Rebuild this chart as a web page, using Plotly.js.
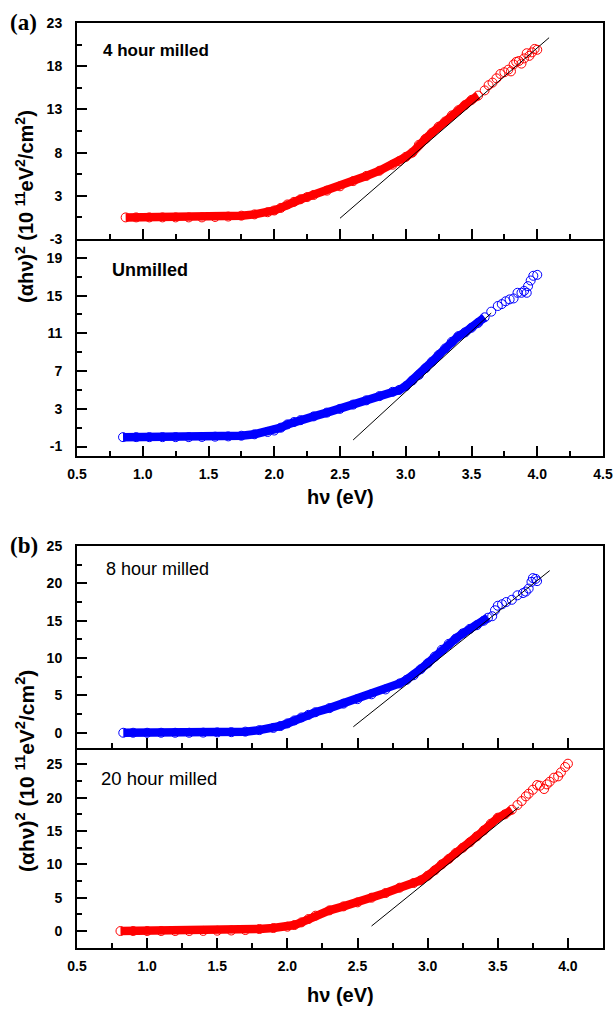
<!DOCTYPE html>
<html>
<head>
<meta charset="utf-8">
<script src="https://cdn.plot.ly/plotly-3.0.1.min.js"></script>
<style>html,body{margin:0;padding:0;background:#fff;}#chart{width:615px;height:1009px;}</style>
</head>
<body>
<div id="chart"></div>
<script>
// ---------- data ----------
// Panel (a) top: 4 hour milled (red)
const hv4 = [0.87,0.95,1.05,1.15,1.25,1.35,1.45,1.55,1.65,1.75,1.85,1.95,2.0,2.05,2.1,2.15,2.2,2.25,2.3,2.4,2.5,2.6,2.7,2.8,2.9,2.95,3.0,3.05,3.1,3.15,3.2,3.25,3.3,3.35,3.4,3.45,3.5,3.55,3.6,3.63,3.66,3.69,3.72,3.75,3.78,3.8,3.82,3.84,3.86,3.88,3.9,3.92,3.94,3.96,3.98,4.0];
const y4  = [0.5,0.5,0.5,0.5,0.5,0.5,0.5,0.55,0.6,0.7,0.85,1.1,1.3,1.6,2.0,2.3,2.6,2.85,3.1,3.6,4.1,4.7,5.3,5.9,6.6,7.0,7.5,8.0,8.9,9.6,10.3,11.0,11.6,12.3,12.9,13.5,14.1,14.6,15.2,15.8,16.1,16.6,17.1,17.3,17.6,17.4,18.2,18.5,18.6,18.3,18.9,19.5,19.2,19.6,20.0,19.9];
const fit4X = [2.5, 4.09];
const fit4Y = [0.4, 21.3];

// Panel (a) bottom: Unmilled (blue)
const hv0 = [0.85,0.95,1.05,1.15,1.25,1.35,1.45,1.55,1.65,1.75,1.85,1.95,2.0,2.05,2.1,2.15,2.2,2.3,2.4,2.5,2.6,2.7,2.8,2.9,2.95,3.0,3.05,3.1,3.15,3.2,3.25,3.3,3.35,3.4,3.45,3.5,3.55,3.6,3.65,3.7,3.73,3.76,3.79,3.82,3.85,3.88,3.9,3.92,3.93,3.95,3.97,4.0];
const y0  = [0,0,0,0,0,0,0.02,0.05,0.08,0.15,0.3,0.55,0.7,1.0,1.35,1.6,1.8,2.2,2.6,3.0,3.45,3.9,4.35,4.8,5.0,5.4,6.0,6.6,7.3,8.0,8.7,9.4,10.1,10.7,11.1,11.6,12.1,12.7,13.3,13.9,14.1,14.4,14.6,14.7,15.3,15.3,15.5,15.3,16.0,16.6,17.1,17.2];
const fit0X = [2.6, 3.65];
const fit0Y = [-0.3, 13.15];

// Panel (b) top: 8 hour milled (blue)
const hv8 = [0.83,0.9,1.0,1.1,1.2,1.3,1.4,1.5,1.6,1.7,1.8,1.9,1.95,2.0,2.05,2.1,2.15,2.2,2.3,2.4,2.5,2.6,2.7,2.8,2.85,2.9,2.95,3.0,3.05,3.1,3.15,3.2,3.25,3.3,3.35,3.4,3.43,3.46,3.48,3.5,3.53,3.56,3.6,3.64,3.68,3.7,3.72,3.74,3.75,3.77,3.78];
const y8  = [0,0,0,0,0,0,0.02,0.05,0.08,0.15,0.35,0.65,0.9,1.25,1.65,2.05,2.4,2.75,3.3,3.9,4.5,5.15,5.8,6.6,7.1,7.7,8.5,9.3,10.2,11.1,11.9,12.6,13.3,13.9,14.4,15.0,15.4,15.6,16.4,17.0,17.2,17.5,17.8,18.4,18.7,18.9,19.3,20.2,20.7,20.6,20.3];
const fit8X = [2.47, 3.87];
const fit8Y = [0.8, 21.7];

// Panel (b) bottom: 20 hour milled (red)
const hv20 = [0.81,0.9,1.0,1.1,1.2,1.3,1.4,1.5,1.6,1.7,1.8,1.9,2.0,2.05,2.1,2.15,2.2,2.3,2.4,2.5,2.6,2.7,2.8,2.9,2.95,3.0,3.05,3.1,3.15,3.2,3.25,3.3,3.35,3.4,3.45,3.5,3.55,3.6,3.64,3.67,3.7,3.72,3.75,3.78,3.8,3.83,3.85,3.87,3.9,3.93,3.95,3.98,4.0];
const y20  = [0,0,0,0,0,0,0.02,0.05,0.08,0.15,0.3,0.45,0.65,0.9,1.3,1.8,2.3,3.1,3.7,4.3,5.0,5.7,6.5,7.2,7.6,8.3,9.1,10.0,10.8,11.7,12.5,13.3,14.2,15.1,16.1,17.0,17.5,18.2,18.9,19.5,20.2,20.6,21.2,21.9,21.8,21.3,22.0,22.4,23.0,23.2,23.8,24.6,25.1];
const fit20X = [2.6, 3.65];
const fit20Y = [0.75, 18.6];

// tick labels
const yTickVals4 = [-2, 3, 8, 13, 18, 23];
const yTickText4 = ['-3', '3', '8', '13', '18', '23'];
const yTickVals0 = [-1, 3, 7, 11, 15, 19];
const yTickVals8 = [0, 5, 10, 15, 20, 25];
const yTickVals20 = [0, 5, 10, 15, 20, 25];

// ---------- styling ----------
const RED = '#ff0000', BLUE = '#0000ff';
const W = 615, H = 1009;
const px = v => v / W, py = v => 1 - v / H;
const xDom = [px(77), px(603)];

function series(x, y, color, xa, ya, bandEnd) {
  const bx = [], by = [];
  x.forEach((v, i) => { if (v <= bandEnd) { bx.push(v); by.push(y[i]); } });
  return [
    {x: bx, y: by, xaxis: xa, yaxis: ya, mode: 'lines', line: {color: color, width: 8.5}, hoverinfo: 'skip'},
    {x: x, y: y, xaxis: xa, yaxis: ya, mode: 'markers',
     marker: {symbol: 'circle-open', size: 9, color: color, line: {width: 1, color: color}}}
  ];
}
function fit(x, y, xa, ya) {
  return {x: x, y: y, xaxis: xa, yaxis: ya, mode: 'lines', line: {color: 'black', width: 1}};
}

const data = [].concat(
  series(hv4, y4, RED, 'x', 'y', 3.55), [fit(fit4X, fit4Y, 'x', 'y')],
  series(hv0, y0, BLUE, 'x2', 'y2', 3.6), [fit(fit0X, fit0Y, 'x2', 'y2')],
  series(hv8, y8, BLUE, 'x3', 'y3', 3.43), [fit(fit8X, fit8Y, 'x3', 'y3')],
  series(hv20, y20, RED, 'x4', 'y4', 3.6), [fit(fit20X, fit20Y, 'x4', 'y4')]
);

const tickFont = {family: 'Liberation Sans, Arial, sans-serif', size: 14, color: 'black', weight: 'bold'};
function xAxis(anchor, range, labels, mirror) {
  return {domain: xDom, anchor: anchor, range: range, showline: true, linewidth: 2, linecolor: 'black',
    mirror: mirror, ticks: 'inside', ticklen: 10, tickwidth: 2, tickcolor: 'black',
    tickmode: 'linear', tick0: 0.5, dtick: 0.5, tickformat: '.1f',
    minor: {ticks: 'inside', ticklen: 5, tickwidth: 2, tickcolor: 'black', tick0: 0.5, dtick: 0.25},
    showgrid: false, zeroline: false, showticklabels: labels, tickfont: tickFont, ticklabelstandoff: 4};
}
function yAxis(anchor, dom, range, vals, text, minor0, minorStep) {
  return {domain: dom, anchor: anchor, range: range, showline: true, linewidth: 2, linecolor: 'black',
    mirror: true, ticks: 'inside', ticklen: 10, tickwidth: 2, tickcolor: 'black',
    tickmode: 'array', tickvals: vals, ticktext: text || vals.map(String),
    minor: {ticks: 'inside', ticklen: 5, tickwidth: 2, tickcolor: 'black', tick0: minor0, dtick: minorStep},
    showgrid: false, zeroline: false, tickfont: tickFont, ticklabelstandoff: 10};
}

const titleFont = {family: 'Liberation Sans, Arial, sans-serif', size: 20, color: 'black'};
const ytitle = '<b>(αhν)<sup>2</sup> (10 <sup>11</sup>eV<sup>2</sup>/cm<sup>2</sup>)</b>';
function ann(text, x, y, font, opts) {
  return Object.assign({text: text, x: px(x), y: py(y), xref: 'paper', yref: 'paper', showarrow: false,
    xanchor: 'left', yanchor: 'middle', font: font}, opts || {});
}

const layout = {
  width: W, height: H, margin: {l: 0, r: 0, t: 0, b: 0},
  paper_bgcolor: 'white', plot_bgcolor: 'white', showlegend: false,
  xaxis: xAxis('y', [0.5, 4.5], false, true),
  xaxis2: xAxis('y2', [0.5, 4.5], true, false),
  xaxis3: xAxis('y3', [0.5, 4.25], false, true),
  xaxis4: xAxis('y4', [0.5, 4.25], true, false),
  yaxis: yAxis('x', [py(239), py(23)], [-2, 23], yTickVals4, yTickText4, 0.5, 5),
  yaxis2: yAxis('x2', [py(456), py(239)], [-2, 21], yTickVals0, null, 1, 4),
  yaxis3: yAxis('x3', [py(747.7), py(546)], [-2, 25], yTickVals8, null, 2.5, 5),
  yaxis4: yAxis('x4', [py(947.7), py(747.7)], [-2.5, 27.5], yTickVals20, null, 2.5, 5),
  annotations: [
    ann('<b>(a)</b>', 8, 22, {family: 'Liberation Serif, Times New Roman, serif', size: 23, color: 'black'}),
    ann('<b>(b)</b>', 8, 545, {family: 'Liberation Serif, Times New Roman, serif', size: 23, color: 'black'}),
    ann('<b>4 hour milled</b>', 101, 51, {family: 'Liberation Sans, Arial, sans-serif', size: 17, color: 'black'}),
    ann('<b>Unmilled</b>', 110, 270, {family: 'Liberation Sans, Arial, sans-serif', size: 18, color: 'black'}),
    ann('8 hour milled', 104, 569, {family: 'Liberation Sans, Arial, sans-serif', size: 18, color: 'black'}),
    ann('20 hour milled', 99, 778, {family: 'Liberation Sans, Arial, sans-serif', size: 18.5, color: 'black'}),
    ann('<b>hν (eV)</b>', 340, 497, titleFont, {xanchor: 'center'}),
    ann('<b>hν (eV)</b>', 340, 995, titleFont, {xanchor: 'center'}),
    ann(ytitle, 25, 207, titleFont, {xanchor: 'center', textangle: -90}),
    ann(ytitle, 25, 771, {family: 'Liberation Sans, Arial, sans-serif', size: 21, color: 'black'}, {xanchor: 'center', textangle: -90})
  ]
};

Plotly.newPlot('chart', data, layout, {staticPlot: true, displayModeBar: false});
</script>
</body>
</html>
